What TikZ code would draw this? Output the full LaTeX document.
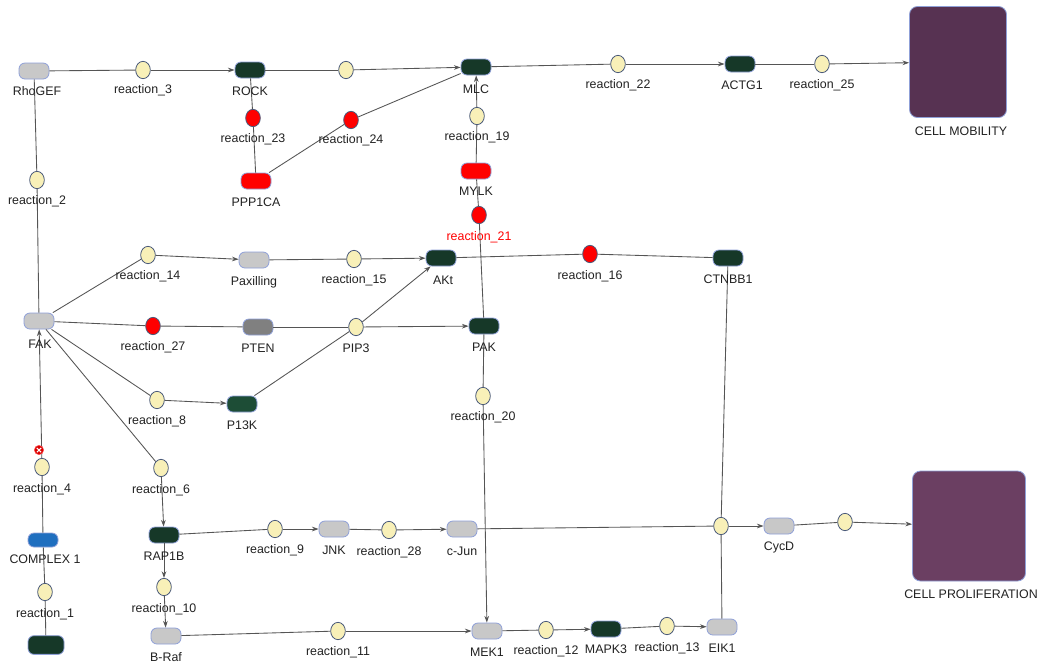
\documentclass[tikz,border=0pt]{standalone}
\usepackage{fontspec}
\setmainfont{Liberation Sans}
\usetikzlibrary{shapes.geometric,arrows.meta}
\definecolor{rfill}{HTML}{F8F0B8}
\definecolor{rborder}{HTML}{4A5A7A}
\definecolor{spborder}{HTML}{8FA0D8}
\definecolor{lineC}{HTML}{555555}
\definecolor{txt}{HTML}{222222}
\definecolor{dgreen}{HTML}{163828}
\definecolor{mgreen}{HTML}{1D4D36}
\definecolor{lgray}{HTML}{C8C8C8}
\definecolor{mgray}{HTML}{808080}
\definecolor{cblue}{HTML}{1F6FBF}
\definecolor{mob}{HTML}{573252}
\definecolor{prolif}{HTML}{6B3F62}
\begin{document}
\begin{tikzpicture}[x=0.75pt,y=-0.75pt,
  rx/.style={ellipse, draw=rborder, line width=0.6pt, fill=rfill, minimum width=11pt, minimum height=13pt, inner sep=0pt},
  rxred/.style={rx, fill=red},
  sp/.style={rectangle, rounded corners=4.5pt, draw=spborder, line width=0.6pt, minimum width=22.5pt, minimum height=12pt, inner sep=0pt},
  big/.style={rectangle, rounded corners=6pt, draw=spborder, line width=0.6pt, inner sep=0pt},
  lbl/.style={font=\fontsize{9.3}{10}\selectfont, text=txt, inner sep=0pt},
  ln/.style={draw=lineC, line width=0.65pt},
  ar/.style={ln, -{Stealth[length=5pt,width=3.5pt]}}]
\path[use as bounding box, fill=white] (0,0) rectangle (1041,662);

% ---- nodes ----
\node[sp, fill=lgray] (rhogef) at (34,71) {};
\node[rx] (r3) at (143,70) {};
\node[sp, fill=dgreen] (rock) at (250,70) {};
\node[rx] (rm) at (346,70) {};
\node[sp, fill=dgreen] (mlc) at (476,67) {};
\node[rxred] (r23) at (253,118) {};
\node[rxred] (r24) at (351,120) {};
\node[sp, fill=red] (ppp) at (256,181) {};
\node[rx] (r19) at (477,116) {};
\node[sp, fill=red] (mylk) at (476,171) {};
\node[rxred] (r21) at (479,215) {};
\node[rx] (r22) at (618,64) {};
\node[sp, fill=dgreen] (actg) at (740,64) {};
\node[rx] (r25) at (822,64) {};
\node[big, fill=mob, minimum width=72.75pt, minimum height=83.25pt] (mobility) at (958,62) {};
\node[rx] (r2) at (37,180) {};
\node[sp, fill=lgray] (fak) at (39,321) {};
\node[rx] (r14) at (148,255) {};
\node[sp, fill=lgray] (pax) at (254,260) {};
\node[rx] (r15) at (354,259) {};
\node[sp, fill=dgreen] (akt) at (441,258) {};
\node[rxred] (r16) at (590,254) {};
\node[sp, fill=dgreen] (ctnbb) at (728,258) {};
\node[rxred] (r27) at (153,326) {};
\node[sp, fill=mgray] (pten) at (258,327) {};
\node[rx] (pip) at (356,327) {};
\node[sp, fill=dgreen] (pak) at (484,326) {};
\node[rx] (r8) at (157,400) {};
\node[sp, fill=mgreen] (p13k) at (242,404) {};
\node[rx] (r20) at (483,396) {};
\node[rx] (r4) at (42,467) {};
\node[rx] (r6) at (161,468) {};
\node[sp, fill=cblue, minimum height=10.5pt] (complex) at (43,540) {};
\node[rx] (r1) at (45,592) {};
\node[sp, fill=dgreen, minimum width=27pt, minimum height=14pt] (bottom) at (46,645) {};
\node[sp, fill=dgreen] (rap) at (164,535) {};
\node[rx] (r9) at (275,529) {};
\node[sp, fill=lgray] (jnk) at (334,529) {};
\node[rx] (r28) at (389,530) {};
\node[sp, fill=lgray] (cjun) at (462,529) {};
\node[rx] (rc) at (721,526) {};
\node[sp, fill=lgray] (cycd) at (779,526) {};
\node[rx] (rp) at (845,522) {};
\node[big, fill=prolif, minimum width=84.75pt, minimum height=82.5pt] (prolif) at (969,526) {};
\node[rx] (r10) at (164,587) {};
\node[sp, fill=lgray] (braf) at (166,636) {};
\node[rx] (r11) at (338,631) {};
\node[sp, fill=lgray] (mek) at (487,631) {};
\node[rx] (r12) at (546,630) {};
\node[sp, fill=dgreen] (mapk) at (606,629) {};
\node[rx] (r13) at (667,626) {};
\node[sp, fill=lgray] (eik) at (722,627) {};

% ---- connectors ----
\draw[ln] (rhogef) -- (r3);
\draw[ar] (r3) -- (rock);
\draw[ln] (rock) -- (rm);
\draw[ar] (rm) -- (mlc);
\draw[ln] (rock) -- (r23);
\draw[ln] (r23) -- (ppp);
\draw[ln] (ppp) -- (r24);
\draw[ln] (r24) -- (mlc);
\draw[ln] (mlc) -- (r22);
\draw[ar] (r22) -- (actg);
\draw[ln] (actg) -- (r25);
\draw[ar] (r25) -- (mobility);
\draw[ar] (r19) -- (mlc);
\draw[ln] (mylk) -- (r19);
\draw[ln] (mylk) -- (r21);
\draw[ln] (r21) -- (pak);
\draw[ln] (pak) -- (r20);
\draw[ar] (r20) -- (mek);
\draw[ln] (rhogef) -- (r2);
\draw[ln] (r2) -- (fak);
\draw[ln] (fak) -- (r14);
\draw[ar] (r14) -- (pax);
\draw[ln] (pax) -- (r15);
\draw[ar] (r15) -- (akt);
\draw[ln] (akt) -- (r16);
\draw[ln] (r16) -- (ctnbb);
\draw[ln] (fak) -- (r27);
\draw[ln] (r27) -- (pten);
\draw[ln] (pten) -- (pip);
\draw[ar] (pip) -- (pak);
\draw[ln] (fak) -- (r8);
\draw[ar] (r8) -- (p13k);
\draw[ln] (p13k) -- (pip);
\draw[ar] (pip) -- (akt);
\draw[ln] (fak) -- (r6);
\draw[ar] (r6) -- (rap);
\draw[ar] (r4) -- (fak);
\draw[ln] (r4) -- (complex);
\draw[ln] (complex) -- (r1);
\draw[ln] (r1) -- (bottom);
\draw[ln] (rap) -- (r9);
\draw[ar] (r9) -- (jnk);
\draw[ln] (jnk) -- (r28);
\draw[ar] (r28) -- (cjun);
\draw[ln] (cjun) -- (rc);
\draw[ar] (rc) -- (cycd);
\draw[ln] (cycd) -- (rp);
\draw[ar] (rp) -- (prolif);
\draw[ln] (ctnbb) -- (rc);
\draw[ln] (eik) -- (rc);
\draw[ar] (rap) -- (r10);
\draw[ar] (r10) -- (braf);
\draw[ln] (braf) -- (r11);
\draw[ar] (r11) -- (mek);
\draw[ln] (mek) -- (r12);
\draw[ar] (r12) -- (mapk);
\draw[ln] (mapk) -- (r13);
\draw[ar] (r13) -- (eik);

% small inhibitor marker on reaction_4
\node[circle, fill=red!85!black, draw=red!70, minimum size=7pt, inner sep=0pt,
  path picture={\draw[white, line width=0.8pt] ([shift={(-1.6pt,-1.6pt)}]path picture bounding box.center) -- ([shift={(1.6pt,1.6pt)}]path picture bounding box.center);
  \draw[white, line width=0.8pt] ([shift={(-1.6pt,1.6pt)}]path picture bounding box.center) -- ([shift={(1.6pt,-1.6pt)}]path picture bounding box.center);}] (xmark) at (39,450) {};

% ---- labels ----
\node[lbl] (l_rhogef) at (37,91) {RhoGEF};
\node[lbl] (l_r3) at (143,90) {reaction\_3};
\node[lbl] (l_rock) at (250,91) {ROCK};
\node[lbl] (l_mlc) at (476,89) {MLC};
\node[lbl] (l_r23) at (253,139) {reaction\_23};
\node[lbl] (l_r24) at (351,140) {reaction\_24};
\node[lbl] (l_ppp) at (256,202) {PPP1CA};
\node[lbl] (l_r19) at (477,137) {reaction\_19};
\node[lbl] (l_mylk) at (476,191) {MYLK};
\node[lbl, text=red] (l_r21) at (479,237) {reaction\_21};
\node[lbl] (l_r22) at (618,85) {reaction\_22};
\node[lbl] (l_actg) at (742,85) {ACTG1};
\node[lbl] (l_r25) at (822,85) {reaction\_25};
\node[lbl] (l_mob) at (961,131) {CELL MOBILITY};
\node[lbl] (l_r2) at (37,201) {reaction\_2};
\node[lbl] (l_fak) at (40,344) {FAK};
\node[lbl] (l_r14) at (148,276) {reaction\_14};
\node[lbl] (l_pax) at (254,282) {Paxilling};
\node[lbl] (l_r15) at (354,280) {reaction\_15};
\node[lbl] (l_akt) at (443,280) {AKt};
\node[lbl] (l_r16) at (590,276) {reaction\_16};
\node[lbl] (l_ctnbb) at (728,279) {CTNBB1};
\node[lbl] (l_r27) at (153,347) {reaction\_27};
\node[lbl] (l_pten) at (258,348) {PTEN};
\node[lbl] (l_pip) at (356,348) {PIP3};
\node[lbl] (l_pak) at (484,347) {PAK};
\node[lbl] (l_r8) at (157,421) {reaction\_8};
\node[lbl] (l_p13k) at (242,425) {P13K};
\node[lbl] (l_r20) at (483,417) {reaction\_20};
\node[lbl] (l_r4) at (42,489) {reaction\_4};
\node[lbl] (l_r6) at (161,490) {reaction\_6};
\node[lbl] (l_complex) at (45,559) {COMPLEX 1};
\node[lbl] (l_r1) at (45,614) {reaction\_1};
\node[lbl] (l_rap) at (164,556) {RAP1B};
\node[lbl] (l_r9) at (275,550) {reaction\_9};
\node[lbl] (l_jnk) at (334,550) {JNK};
\node[lbl] (l_r28) at (389,552) {reaction\_28};
\node[lbl] (l_cjun) at (462,551) {c-Jun};
\node[lbl] (l_cycd) at (779,547) {CycD};
\node[lbl] (l_prolif) at (971,594) {CELL PROLIFERATION};
\node[lbl] (l_r10) at (164,609) {reaction\_10};
\node[lbl] (l_braf) at (166,657) {B-Raf};
\node[lbl] (l_r11) at (338,652) {reaction\_11};
\node[lbl] (l_mek) at (487,652) {MEK1};
\node[lbl] (l_r12) at (546,651) {reaction\_12};
\node[lbl] (l_mapk) at (606,649) {MAPK3};
\node[lbl] (l_r13) at (667,648) {reaction\_13};
\node[lbl] (l_eik) at (722,648) {EIK1};
\end{tikzpicture}
\end{document}
